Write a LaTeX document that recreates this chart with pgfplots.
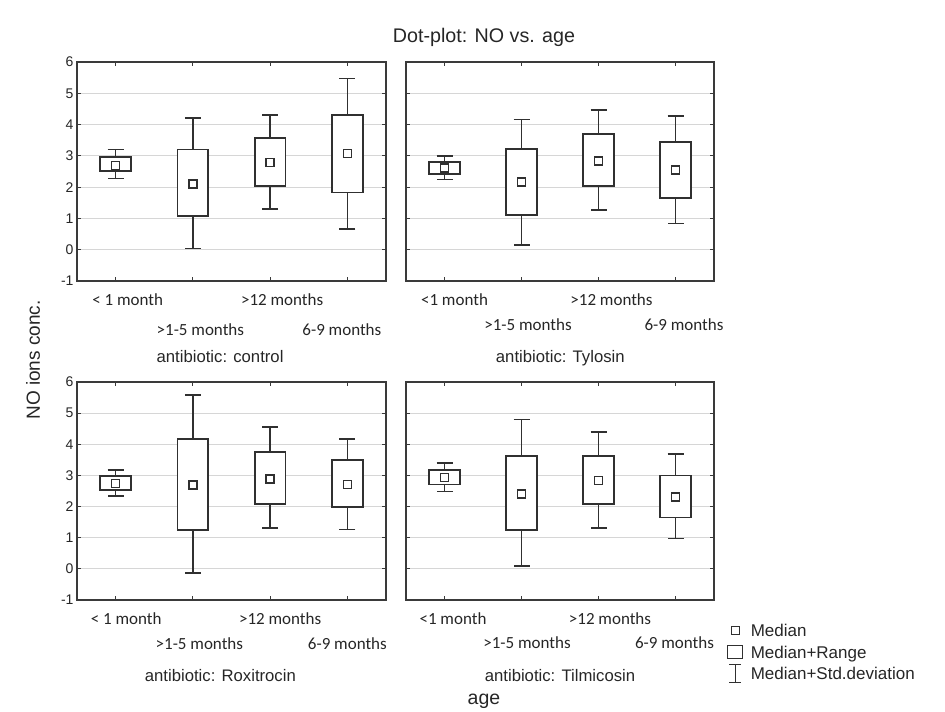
\documentclass[border=0pt]{standalone}
\usepackage{fontspec}
\setmainfont{Liberation Sans}
\newfontfamily\calfont{Carlito}
\usepackage{pgfplots}
\usepackage{pgfplotstable}
\pgfplotsset{compat=1.18}
\usepgfplotslibrary{statistics}
\definecolor{framec}{HTML}{3A3A3A}
\definecolor{boxc}{HTML}{303030}
\definecolor{gridc}{HTML}{D6D6D6}

% x = category, med = median, blo/bhi = box (range), wlo/whi = whiskers (std. deviation)
\pgfplotstableread{
x med blo bhi wlo whi
0 2.70 2.52 2.96 2.28 3.20
1 2.10 1.07 3.20 0.04 4.21
2 2.79 2.03 3.58 1.30 4.31
3 3.08 1.83 4.31 0.67 5.47
}\tControl
\pgfplotstableread{
x med blo bhi wlo whi
0 2.61 2.42 2.81 2.24 3.00
1 2.16 1.12 3.21 0.15 4.16
2 2.84 2.03 3.69 1.26 4.46
3 2.55 1.65 3.44 0.84 4.27
}\tTylosin
\pgfplotstableread{
x med blo bhi wlo whi
0 2.75 2.52 2.97 2.33 3.17
1 2.69 1.25 4.16 -0.14 5.58
2 2.89 2.08 3.75 1.31 4.56
3 2.70 1.99 3.50 1.26 4.17
}\tRoxi
\pgfplotstableread{
x med blo bhi wlo whi
0 2.94 2.71 3.17 2.48 3.40
1 2.40 1.25 3.63 0.10 4.80
2 2.84 2.08 3.63 1.31 4.40
3 2.31 1.65 3.00 0.97 3.69
}\tTilmi

\newcommand{\sx}[2]{\makebox[0pt]{\hspace*{#1}#2}}
\def\rtwoshift{-25pt}
\newcommand{\rtwo}[1]{\raisebox{\rtwoshift}{#1}}

\pgfplotsset{
  panel/.style={
    scale only axis,
    xmin=-0.5, xmax=3.5, ymin=-1, ymax=6,
    xtick={0,1,2,3}, ytick={-1,0,1,2,3,4,5,6},
    xtick pos=both, ytick pos=both,
    xticklabel pos=lower, yticklabel pos=left,
    tick align=inside, major tick length=4pt,
    every tick/.style={framec, line width=1pt},
    axis line style={framec, line width=1.8pt},
    ymajorgrids, major grid style={gridc, line width=1.2pt},
    xticklabel style={font=\calfont\fontsize{17}{17}\selectfont, anchor=base, yshift=-24.5pt, inner sep=0pt, text=black!85},
    yticklabel style={font=\fontsize{14}{14}\selectfont, text=black!85},
    xlabel style={font=\fontsize{16.7}{17}\selectfont, anchor=base, yshift=-81.5pt, text=black!85},
    boxplot/draw direction=y,
    boxplot/every box/.style={fill=white, draw=boxc, line width=1.8pt},
    boxplot/every whisker/.style={draw=none},
    boxplot/every median/.style={draw=none},
  },
  boxst/.style={forget plot, boxc, line width=1.8pt},
}

\newcommand{\drawpanel}[1]{%
  \addplot[forget plot, only marks, mark=none,
    error bars/.cd, y dir=both, y explicit,
    error bar style={boxc, line width=1.6pt},
    error mark options={boxc, line width=1.6pt, mark size=8pt, rotate=90}]
    table[x=x, y=med, y error plus expr=\thisrow{whi}-\thisrow{med},
          y error minus expr=\thisrow{med}-\thisrow{wlo}] {#1};
  \pgfplotsinvokeforeach{0,1,2,3}{%
    \pgfplotstablegetelem{##1}{blo}\of{#1}\let\blo\pgfplotsretval
    \pgfplotstablegetelem{##1}{bhi}\of{#1}\let\bhi\pgfplotsretval
    \edef\doBox{\noexpand\addplot[boxst, boxplot prepared={draw position=##1,
        lower whisker=\blo, lower quartile=\blo, median=\blo,
        upper quartile=\bhi, upper whisker=\bhi, box extend=0.4, whisker extend=0}]
      coordinates {};}%
    \doBox
  }
  \addplot[forget plot, only marks, mark=square*, mark size=4pt,
    mark options={fill=white, draw=boxc, line width=1.4pt}]
    table[x=x, y=med] {#1};
}

\begin{document}
\begin{tikzpicture}
\useasboundingbox (0,0) rectangle (945pt,712pt);

\begin{axis}[panel, at={(77pt,431pt)}, anchor=south west, width=309pt, height=219pt,
  yticklabels={-1,0,1,2,3,4,5,6},
  xticklabels={\sx{24pt}{< 1 month}, \rtwo{\sx{15pt}{>1-5 months}}, \sx{24pt}{>12 months}, \rtwo{\sx{-11pt}{6-9 months}}},
  xlabel={antibiotic: control}, xlabel style={at={(axis description cs:0.463,0)}}]
\def\rtwoshift{-30pt}
\drawpanel{\tControl}
\end{axis}

\begin{axis}[panel, at={(406pt,431pt)}, anchor=south west, width=308pt, height=219pt,
  yticklabels={,,,,,,,},
  xticklabels={\sx{20pt}{<1 month}, \rtwo{\sx{13pt}{>1-5 months}}, \sx{26pt}{>12 months}, \rtwo{\sx{17pt}{6-9 months}}},
  xlabel={antibiotic: Tylosin}, xlabel style={at={(axis description cs:0.501,0)}}]
\def\rtwoshift{-25pt}
\drawpanel{\tTylosin}
\end{axis}

\begin{axis}[panel, at={(77pt,112pt)}, anchor=south west, width=309pt, height=218pt,
  yticklabels={-1,0,1,2,3,4,5,6},
  xticklabels={\sx{21pt}{< 1 month}, \rtwo{\sx{13pt}{>1-5 months}}, \sx{20pt}{>12 months}, \rtwo{\sx{0pt}{6-9 months}}},
  xlabel={antibiotic: Roxitrocin}, xlabel style={at={(axis description cs:0.464,0)}}]
\def\rtwoshift{-24.5pt}
\drawpanel{\tRoxi}
\end{axis}

\begin{axis}[panel, at={(406pt,112pt)}, anchor=south west, width=308pt, height=218pt,
  yticklabels={,,,,,,,},
  xticklabels={\sx{17pt}{<1 month}, \rtwo{\sx{11pt}{>1-5 months}}, \sx{23pt}{>12 months}, \rtwo{\sx{-2pt}{6-9 months}}},
  xlabel={antibiotic: Tilmicosin}, xlabel style={at={(axis description cs:0.5,0)}},
  legend cell align=left,
  legend style={at={(axis description cs:1,0)}, anchor=north west, xshift=13pt, yshift=-20.7pt,
    draw=none, fill=none, inner sep=0pt, outer sep=0pt, row sep=1.3pt, column sep=7.7pt,
    font=\fontsize{17}{17}\selectfont,
    nodes={inner sep=0pt, text height=12pt, text depth=0pt, text=black!85}}]
\def\rtwoshift{-24pt}
\drawpanel{\tTilmi}
\addlegendimage{legend image code/.code={\path[draw=none, fill=none] (0pt,-10pt) rectangle (16pt,10pt);
  \draw[boxc, line width=1.1pt, fill=white] (4pt,-4pt) rectangle (12pt,4pt);}}
\addlegendentry{Median}
\addlegendimage{legend image code/.code={\path[draw=none, fill=none] (0pt,-10pt) rectangle (16pt,10pt);
  \draw[boxc, line width=1.1pt, fill=white] (0.5pt,-6.5pt) rectangle (15.5pt,6.5pt);}}
\addlegendentry{Median+Range}
\addlegendimage{legend image code/.code={\path[draw=none, fill=none] (0pt,-10pt) rectangle (16pt,10pt);
  \draw[boxc, line width=1.1pt] (8pt,-9pt) -- (8pt,9pt) (2pt,-9pt) -- (14pt,-9pt) (2pt,9pt) -- (14pt,9pt);}}
\addlegendentry{Median+Std.deviation}
\end{axis}

\node[anchor=base, font=\fontsize{19.7}{20}\selectfont, text=black!85] at (484pt,669.7pt) {Dot-plot: NO vs. age};
\node[anchor=base, font=\fontsize{19.5}{20}\selectfont, text=black!85] at (484pt,7.3pt) {age};
\node[rotate=90, font=\fontsize{19}{20}\selectfont, text=black!85] at (33pt,352pt) {NO ions conc.};
\end{tikzpicture}
\end{document}
